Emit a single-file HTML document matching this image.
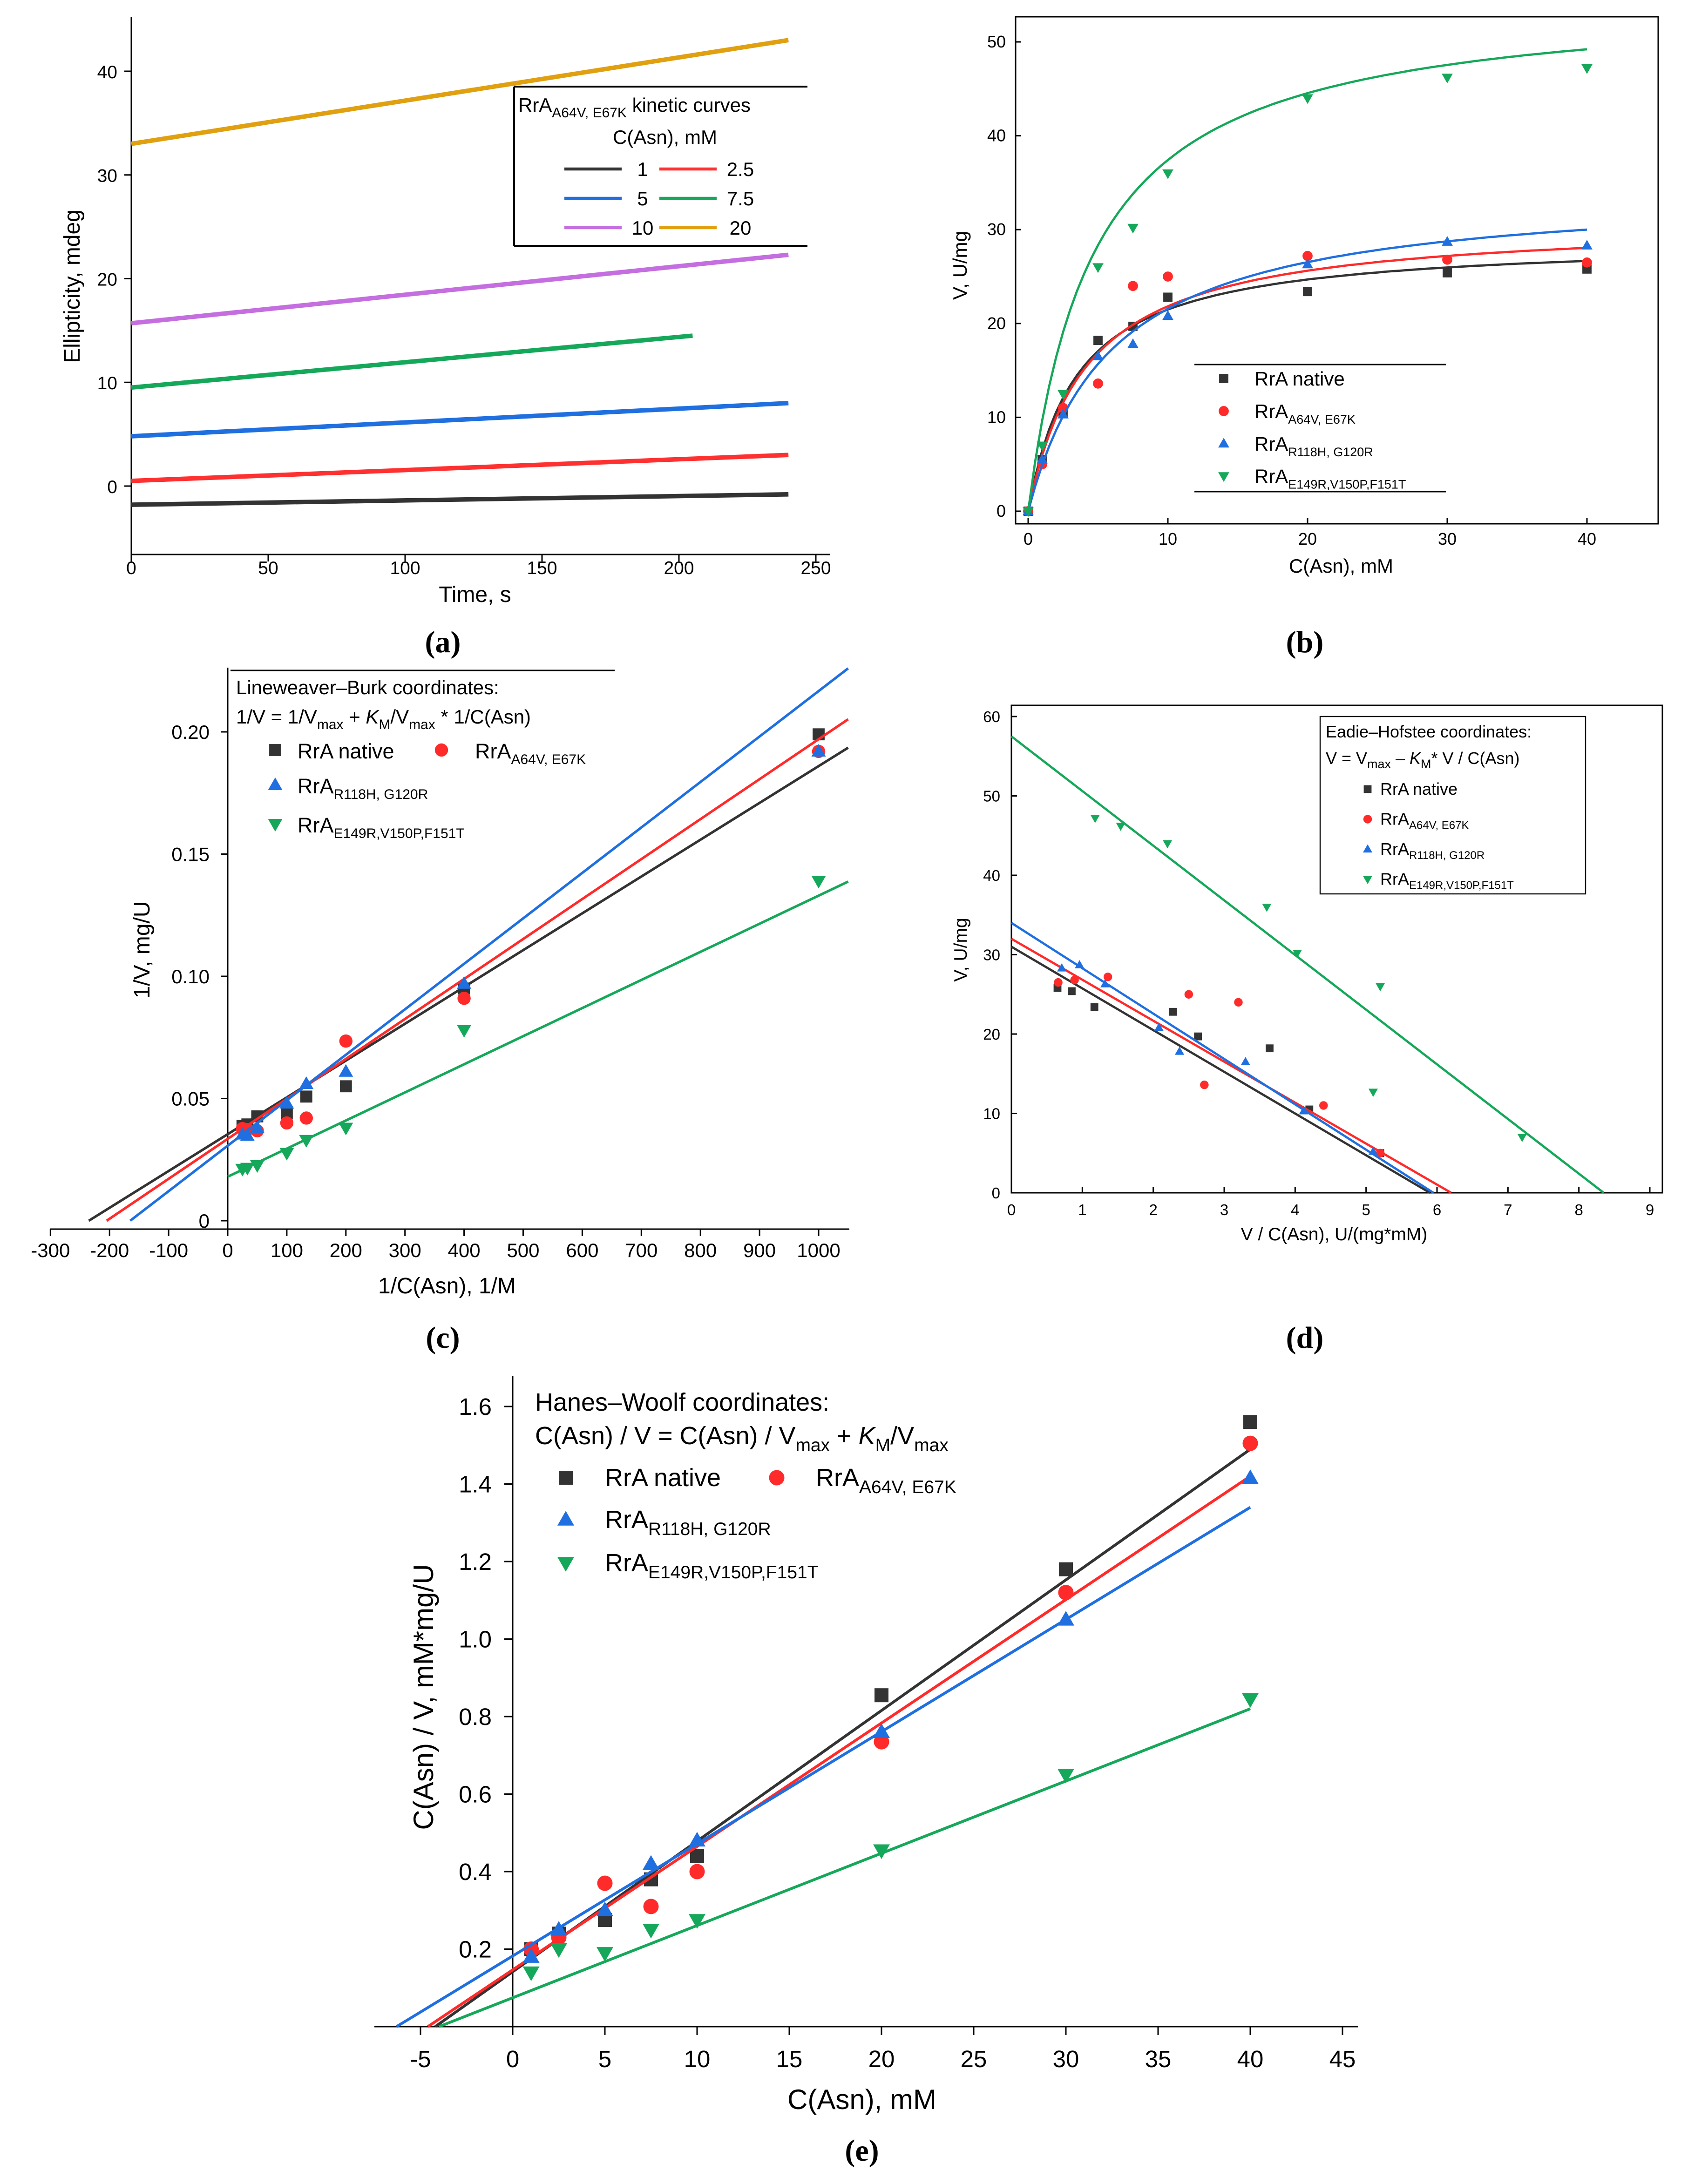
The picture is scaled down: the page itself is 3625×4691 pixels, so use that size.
<!DOCTYPE html>
<html><head><meta charset="utf-8"><style>
html,body{margin:0;padding:0;background:#fff}
svg{display:block}
text{font-family:"Liberation Sans",Arial,sans-serif;fill:#000}
.cap{font-family:"Liberation Serif",serif;font-weight:bold;font-size:22px}
</style></head><body>
<svg id="root" xmlns="http://www.w3.org/2000/svg" width="3625" height="4691" viewBox="0 0 1208.33 1563.67">
<rect width="1208.33" height="1563.67" fill="#fff"/>
</svg>
<script>
// ---------- DATA ----------
// (a) kinetic curves: start / end ellipticity and end time
const aConc = ['1','2.5','5','7.5','10','20'];
const aStart = [-1.8, 0.5, 4.8, 9.5, 15.7, 33.0];
const aEnd = [-0.8, 3.0, 8.0, 14.5, 22.3, 43.0];
const aTEnd = [240, 240, 240, 205, 240, 240];
const aXTicks = [0,50,100,150,200,250];
const aYTicks = [0,10,20,30,40];
// (b) Michaelis–Menten
const bConc = [0,1,2.5,5,7.5,10,20,30,40];
const bNative = [0,5.5,10.5,18.2,19.7,22.8,23.4,25.4,25.8];
const bA64V = [0,5.0,11.0,13.6,24.0,25.0,27.2,26.8,26.5];
const bR118H = [0,5.5,10.3,16.5,17.8,20.8,26.3,28.7,28.3];
const bE149R = [0,7.0,12.5,26.0,30.2,36.0,44.0,46.2,47.2];
const bVmax = [29, 31, 34.5, 55];
const bKm = [3.5, 4.2, 6.0, 4.7];
const bXTicks = [0,10,20,30,40];
const bYTicks = [0,10,20,30,40,50];
// (c) Lineweaver–Burk
const cX = [25,33.3,50,100,133,200,400,1000];
const cNative = [0.0388,0.0394,0.0427,0.0439,0.0508,0.055,0.095,0.199];
const cA64V = [0.0377,0.0373,0.0368,0.040,0.042,0.0735,0.091,0.192];
const cR118H = [0.0353,0.0348,0.038,0.048,0.056,0.061,0.097,0.192];
const cE149R = [0.0212,0.0216,0.0227,0.0277,0.033,0.038,0.078,0.139];
const cSlope = [1.506e-4,1.635e-4,1.86e-4,1.15e-4];
const cInt = [0.0354,0.0335,0.0307,0.018];
const cXTicks = [-300,-200,-100,0,100,200,300,400,500,600,700,800,900,1000];
const cYTicks = [0,0.05,0.10,0.15,0.20];
// (d) Eadie–Hofstee
const dNX = [0.65,0.85,1.17,2.28,2.63,3.64,4.2,5.2];
const dNY = [25.8,25.4,23.4,22.8,19.7,18.2,10.5,5.0];
const dAX = [0.66,0.89,1.36,2.5,3.2,2.72,4.4,5.2];
const dAY = [26.5,26.8,27.2,25.0,24.0,13.6,11.0,5.0];
const dRX = [0.71,0.96,1.32,2.08,2.37,3.3,4.12,5.1];
const dRY = [28.3,28.7,26.3,20.8,17.8,16.5,10.3,5.2];
const dGX = [1.18,1.54,2.2,3.6,4.03,5.2,5.1,7.2];
const dGY = [47.2,46.2,44.0,36.0,30.2,26.0,12.7,7.0];
const dInt = [31,32,34,57.5];
const dXint = [5.9,6.2,5.95,8.35];
const dXTicks = [0,1,2,3,4,5,6,7,8,9];
const dYTicks = [0,10,20,30,40,50,60];
// (e) Hanes–Woolf
const eX = [1,2.5,5,7.5,10,20,30,40];
const eNative = [0.2,0.24,0.275,0.38,0.44,0.855,1.18,1.56];
const eA64V = [0.2,0.23,0.37,0.31,0.40,0.735,1.12,1.505];
const eR118H = [0.18,0.25,0.30,0.42,0.48,0.76,1.05,1.415];
const eE149R = [0.14,0.20,0.19,0.25,0.275,0.455,0.65,0.845];
const eSlope = [0.0337,0.03184,0.02894,0.01864];
const eInt = [0.1416,0.1465,0.1823,0.0745];
const eXTicks = [-5,0,5,10,15,20,25,30,35,40,45];
const eYTicks = [0.2,0.4,0.6,0.8,1.0,1.2,1.4,1.6];

const COL = ['#333333','#ff2a2a','#1f6fe0','#16a85a'];
const ACOL = ['#333333','#ff3030','#1f6fe0','#16a85a','#c56ee0','#e0a010'];
const SHAPES = ['sq','ci','tu','td'];
const NAMES = ['native','a64v','r118h','e149r'];

const NS='http://www.w3.org/2000/svg';
const root=document.getElementById('root');
function mk(tag,attrs,parent){const e=document.createElementNS(NS,tag);for(const k in attrs)e.setAttribute(k,attrs[k]);(parent||root).appendChild(e);return e;}
function txt(s,x,y,size,anchor,parent,extra){const t=mk('text',Object.assign({x:x,y:y,'font-size':size,'text-anchor':anchor||'middle'},extra||{}),parent);t.innerHTML=s;return t;}
function marker(shape,x,y,c,r,parent){
  let e;
  if(shape==='sq') e=mk('rect',{x:x-r,y:y-r,width:2*r,height:2*r,fill:c},parent);
  else if(shape==='ci') e=mk('circle',{cx:x,cy:y,r:r*1.1,fill:c},parent);
  else if(shape==='tu') e=mk('polygon',{points:`${x},${y-r*1.25} ${x-r*1.2},${y+r*0.85} ${x+r*1.2},${y+r*0.85}`,fill:c},parent);
  else e=mk('polygon',{points:`${x},${y+r*1.25} ${x-r*1.2},${y-r*0.85} ${x+r*1.2},${y-r*0.85}`,fill:c},parent);
  return e;
}
function lin(d0,d1,p0,p1){return v=>p0+(v-d0)*(p1-p0)/(d1-d0);}

// ---------- PANEL A ----------
(function(){
  const g=mk('g',{});
  
  
  const X=lin(0,250,94,584), Y=lin(0,40,348,51);
  mk('line',{x1:94,y1:12,x2:94,y2:397,stroke:'#000','stroke-width':1},g);
  mk('line',{x1:94,y1:397,x2:594,y2:397,stroke:'#000','stroke-width':1},g);
  aXTicks.forEach(t=>{mk('line',{x1:X(t),y1:397,x2:X(t),y2:402,stroke:'#000'},g);const l=txt(t,X(t),411,13,'middle',g);});
  aYTicks.forEach(t=>{mk('line',{x1:89,y1:Y(t),x2:94,y2:Y(t),stroke:'#000'},g);const l=txt(t,84,Y(t)+5,13,'end',g);});
  const xt=txt('Time, s',340,431,16,'middle',g);
  const yt=txt('Ellipticity, mdeg',57,205,16,'middle',g,{transform:'rotate(-90 57 205)'});
  aConc.forEach((c,i)=>{
    const l=mk('line',{x1:X(0),y1:Y(aStart[i]),x2:X(aTEnd[i]),y2:Y(aEnd[i]),stroke:ACOL[i],'stroke-width':3.2},g);
    
    
  });
  const lg=mk('g',{},g);
  
  
  mk('rect',{x:368,y:62,width:210,height:114,fill:'#fff',stroke:'none'},lg);
  mk('line',{x1:368,y1:62,x2:578,y2:62,stroke:'#000','stroke-width':1.3},lg);
  mk('line',{x1:368,y1:176,x2:578,y2:176,stroke:'#000','stroke-width':1.3},lg);
  mk('line',{x1:368,y1:62,x2:368,y2:176,stroke:'#000','stroke-width':1.3},lg);
  txt('RrA<tspan font-size="10" dy="4">A64V, E67K</tspan><tspan dy="-4"> kinetic curves</tspan>',371,80,14,'start',lg);
  txt('C(Asn), mM',476,103,14,'middle',lg);
  aConc.forEach((c,i)=>{
    const col=i%2, row=Math.floor(i/2);
    const lx=col?472:404, y=126+row*21;
    mk('line',{x1:lx,y1:y-5,x2:lx+41,y2:y-5,stroke:ACOL[i],'stroke-width':2.2},lg);
    txt(c,col?530:460,y,14,'middle',lg);
  });
})();

// ---------- PANEL B ----------
(function(){
  const g=mk('g',{});
  
  
  const X=lin(0,40,736,1136), Y=lin(0,50,366,30);
  mk('rect',{x:727,y:12,width:460,height:363,fill:'none',stroke:'#000','stroke-width':1},g);
  bXTicks.forEach(t=>{mk('line',{x1:X(t),y1:375,x2:X(t),y2:371,stroke:'#000'},g);const l=txt(t,X(t),390,12,'middle',g);});
  bYTicks.forEach(t=>{mk('line',{x1:727,y1:Y(t),x2:731,y2:Y(t),stroke:'#000'},g);const l=txt(t,720,Y(t)+4,12,'end',g);});
  const xt=txt('C(Asn), mM',960,410,14,'middle',g);
  const yt=txt('V, U/mg',692,190,14,'middle',g,{transform:'rotate(-90 692 190)'});
  const series=[bNative,bA64V,bR118H,bE149R];
  series.forEach((s,i)=>{
    let d='';
    for(let c=0;c<=40;c+=0.5){const v=bVmax[i]*c/(bKm[i]+c);d+=(c===0?'M':'L')+X(c).toFixed(1)+','+Y(v).toFixed(1);}
    const p=mk('path',{d:d,fill:'none',stroke:COL[i],'stroke-width':1.6},g);
    
    
    s.forEach((v,j)=>{const m=marker(SHAPES[i],X(bConc[j]),Y(v),COL[i],3.3,g);
      
      });
  });
  const lg=mk('g',{},g);
  
  
  mk('line',{x1:855,y1:261,x2:1035,y2:261,stroke:'#000'},lg);
  mk('line',{x1:855,y1:352,x2:1035,y2:352,stroke:'#000'},lg);
  const labs=['RrA native','RrA<tspan font-size="9" dy="4">A64V, E67K</tspan>','RrA<tspan font-size="9" dy="4">R118H, G120R</tspan>','RrA<tspan font-size="9" dy="4">E149R,V150P,F151T</tspan>'];
  labs.forEach((l,i)=>{const y=271+i*23.3;marker(SHAPES[i],876,y,COL[i],3.3,lg);txt(l,898,y+5,14,'start',lg);});
})();

// ---------- PANEL C ----------
(function(){
  const g=mk('g',{});
  
  
  const X=lin(0,1000,163,586), Y=lin(0,0.2,874,524);
  mk('line',{x1:36,y1:880,x2:608,y2:880,stroke:'#000'},g);
  mk('line',{x1:163,y1:478,x2:163,y2:880,stroke:'#000'},g);
  cXTicks.forEach(t=>{mk('line',{x1:X(t),y1:880,x2:X(t),y2:885,stroke:'#000'},g);const l=txt(t,X(t),900,14,'middle',g);});
  cYTicks.forEach(t=>{mk('line',{x1:158,y1:Y(t),x2:163,y2:Y(t),stroke:'#000'},g);const l=txt(t===0?'0':t.toFixed(2),150,Y(t)+5,14,'end',g);});
  const xt=txt('1/C(Asn), 1/M',320,926,16,'middle',g);
  const yt=txt('1/V, mg/U',107,680,16,'middle',g,{transform:'rotate(-90 107 680)'});
  const series=[cNative,cA64V,cR118H,cE149R];
  series.forEach((s,i)=>{
    let x0=-cInt[i]/cSlope[i]; if(i===3) x0=0;
    let x1=1050; if(cInt[i]+cSlope[i]*x1>0.226) x1=(0.226-cInt[i])/cSlope[i];
    const l=mk('line',{x1:X(x0),y1:Y(cInt[i]+cSlope[i]*x0),x2:X(x1),y2:Y(cInt[i]+cSlope[i]*x1),stroke:COL[i],'stroke-width':1.8},g);
    
    
    s.forEach((v,j)=>{const m=marker(SHAPES[i],X(cX[j]),Y(v),COL[i],4.3,g);
      
      });
  });
  const lg=mk('g',{},g);
  
  
  mk('line',{x1:165,y1:480,x2:440,y2:480,stroke:'#000'},lg);
  txt('Lineweaver–Burk coordinates:',169,497,14,'start',lg);
  txt('1/V = 1/V<tspan font-size="10" dy="4">max</tspan><tspan dy="-4"> + </tspan><tspan font-style="italic">K</tspan><tspan font-size="10" dy="4">M</tspan><tspan dy="-4">/V</tspan><tspan font-size="10" dy="4">max</tspan><tspan dy="-4"> * 1/C(Asn)</tspan>',169,518,14,'start',lg);
  marker('sq',197,537,COL[0],4.3,lg); txt('RrA native',213,543,15,'start',lg);
  marker('ci',316,537,COL[1],4.3,lg); txt('RrA<tspan font-size="10" dy="4">A64V, E67K</tspan>',340,543,15,'start',lg);
  marker('tu',197,562,COL[2],4.3,lg); txt('RrA<tspan font-size="10" dy="4">R118H, G120R</tspan>',213,568,15,'start',lg);
  marker('td',197,590,COL[3],4.3,lg); txt('RrA<tspan font-size="10" dy="4">E149R,V150P,F151T</tspan>',213,596,15,'start',lg);
})();

// ---------- PANEL D ----------
(function(){
  const g=mk('g',{});
  
  
  const X=lin(0,9,724,1181), Y=lin(0,60,854,513);
  mk('rect',{x:724,y:505,width:466,height:349,fill:'none',stroke:'#000'},g);
  dXTicks.forEach(t=>{mk('line',{x1:X(t),y1:854,x2:X(t),y2:850,stroke:'#000'},g);const l=txt(t,X(t),870,11,'middle',g);});
  dYTicks.forEach(t=>{mk('line',{x1:724,y1:Y(t),x2:728,y2:Y(t),stroke:'#000'},g);const l=txt(t,716,Y(t)+4,11,'end',g);});
  const xt=txt('V / C(Asn), U/(mg*mM)',955,888,13,'middle',g);
  const yt=txt('V, U/mg',692,680,13,'middle',g,{transform:'rotate(-90 692 680)'});
  const xs=[dNX,dAX,dRX,dGX], ys=[dNY,dAY,dRY,dGY];
  for(let i=0;i<4;i++){
    const l=mk('line',{x1:X(0),y1:Y(dInt[i]),x2:X(dXint[i]),y2:Y(0),stroke:COL[i],'stroke-width':1.6},g);
    
    
    xs[i].forEach((x,j)=>{const m=marker(SHAPES[i],X(x),Y(ys[i][j]),COL[i],2.8,g);
      
      });
  }
  const lg=mk('g',{},g);
  
  
  mk('rect',{x:945,y:513,width:190,height:127,fill:'none',stroke:'#000','stroke-width':0.8},lg);
  txt('Eadie–Hofstee coordinates:',949,528,12,'start',lg);
  txt('V = V<tspan font-size="9" dy="3">max</tspan><tspan dy="-3"> – </tspan><tspan font-style="italic">K</tspan><tspan font-size="9" dy="3">M</tspan><tspan dy="-3">* V / C(Asn)</tspan>',949,547,12,'start',lg);
  const labs=['RrA native','RrA<tspan font-size="8" dy="3">A64V, E67K</tspan>','RrA<tspan font-size="8" dy="3">R118H, G120R</tspan>','RrA<tspan font-size="8" dy="3">E149R,V150P,F151T</tspan>'];
  labs.forEach((l,i)=>{const y=565+i*21.5;marker(SHAPES[i],979,y,COL[i],2.8,lg);txt(l,988,y+4,12,'start',lg);});
})();

// ---------- PANEL E ----------
(function(){
  const g=mk('g',{});
  
  
  const X=lin(0,40,367,895), Y=lin(0,1.6,1451,1007);
  mk('line',{x1:268,y1:1451,x2:972,y2:1451,stroke:'#000'},g);
  mk('line',{x1:367,y1:985,x2:367,y2:1451,stroke:'#000'},g);
  eXTicks.forEach(t=>{mk('line',{x1:X(t),y1:1451,x2:X(t),y2:1457,stroke:'#000'},g);const l=txt(t,X(t),1480,17,'middle',g);});
  eYTicks.forEach(t=>{mk('line',{x1:361,y1:Y(t),x2:367,y2:Y(t),stroke:'#000'},g);const l=txt(t.toFixed(1),352,Y(t)+6,17,'end',g);});
  const xt=txt('C(Asn), mM',617,1510,20,'middle',g);
  const yt=txt('C(Asn) / V, mM*mg/U',310,1215,20,'middle',g,{transform:'rotate(-90 310 1215)'});
  const series=[eNative,eA64V,eR118H,eE149R];
  series.forEach((s,i)=>{
    let x0=-eInt[i]/eSlope[i]; if(x0<-6.5) x0=-6.5;
    const l=mk('line',{x1:X(x0),y1:Y(eInt[i]+eSlope[i]*x0),x2:X(40),y2:Y(eInt[i]+eSlope[i]*40),stroke:COL[i],'stroke-width':2},g);
    
    
    s.forEach((v,j)=>{const m=marker(SHAPES[i],X(eX[j]),Y(v),COL[i],5,g);
      
      });
  });
  const lg=mk('g',{},g);
  
  
  txt('Hanes–Woolf coordinates:',383,1010,18,'start',lg);
  txt('C(Asn) / V = C(Asn) / V<tspan font-size="13" dy="5">max</tspan><tspan dy="-5"> + </tspan><tspan font-style="italic">K</tspan><tspan font-size="13" dy="5">M</tspan><tspan dy="-5">/V</tspan><tspan font-size="13" dy="5">max</tspan>',383,1034,18,'start',lg);
  marker('sq',405,1058,COL[0],5,lg); txt('RrA native',433,1064,18,'start',lg);
  marker('ci',556,1058,COL[1],5,lg); txt('RrA<tspan font-size="13" dy="5">A64V, E67K</tspan>',584,1064,18,'start',lg);
  marker('tu',405,1088,COL[2],5,lg); txt('RrA<tspan font-size="13" dy="5">R118H, G120R</tspan>',433,1094,18,'start',lg);
  marker('td',405,1119,COL[3],5,lg); txt('RrA<tspan font-size="13" dy="5">E149R,V150P,F151T</tspan>',433,1125,18,'start',lg);
})();

// ---------- CAPTIONS ----------
[['(a)',317,467],['(b)',934,467],['(c)',317,965],['(d)',934,965],['(e)',617,1547]].forEach(c=>{
  const t=txt(c[0],c[1],c[2],22,'middle',null,{'class':'cap'});
  
  
});
</script>
</body></html>
